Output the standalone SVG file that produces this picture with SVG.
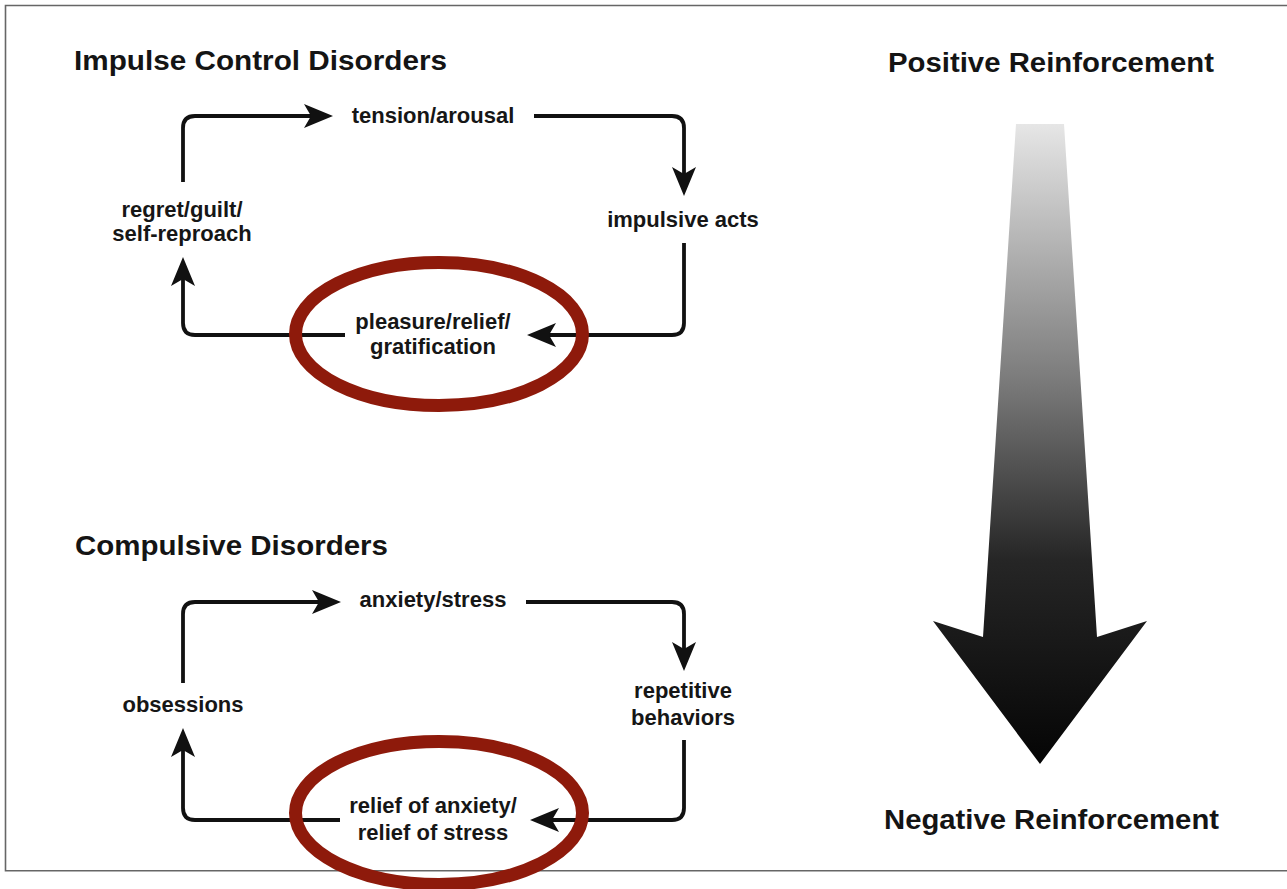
<svg xmlns="http://www.w3.org/2000/svg" width="1287" height="889" viewBox="0 0 1287 889">
  <style>
    .title { font-family: "Liberation Sans", Arial, sans-serif; font-weight: bold; font-size: 27px; fill: #141414; }
    .label { font-family: "Liberation Sans", Arial, sans-serif; font-weight: bold; font-size: 22px; fill: #161616; text-anchor: middle; }
    .conn { fill: none; stroke: #111; stroke-width: 3.8; stroke-linejoin: round; marker-end: url(#ah); }
    .ring { fill: none; stroke: #8e1a0b; stroke-width: 13; }
    .frame { fill: none; stroke: #666; stroke-width: 1.6; }
  </style>
  <defs>
    <marker id="ah" markerUnits="userSpaceOnUse" markerWidth="34" markerHeight="28" viewBox="0 -14 34 28" refX="19" refY="0" orient="auto" overflow="visible">
      <path d="M0,-12 L29,0 L0,12 L7,0 Z" fill="#111"/>
    </marker>
    <linearGradient id="shade" gradientUnits="userSpaceOnUse" x1="0" y1="124" x2="0" y2="764">
      <stop offset="0" stop-color="#e6e6e6"/>
      <stop offset="0.4" stop-color="#7b7b7b"/>
      <stop offset="0.68" stop-color="#262626"/>
      <stop offset="1" stop-color="#050505"/>
    </linearGradient>
  </defs>

  <!-- outer frame (open on the right) -->
  <path class="frame" d="M1287,5.5 H5.5 V870.7 H1287"/>

  <!-- section headings -->
  <text class="title" x="74" y="70" textLength="373" lengthAdjust="spacingAndGlyphs">Impulse Control Disorders</text>
  <text class="title" x="75" y="555" textLength="313" lengthAdjust="spacingAndGlyphs">Compulsive Disorders</text>
  <text class="title" x="888" y="72" textLength="326" lengthAdjust="spacingAndGlyphs">Positive Reinforcement</text>
  <text class="title" x="884" y="829" textLength="335" lengthAdjust="spacingAndGlyphs">Negative Reinforcement</text>

  <!-- reinforcement scale arrow -->
  <g id="scale-arrow">
    <polygon points="1016,124 1064,124 1097,637 1147,621 1040,764 933,621 983,637" fill="url(#shade)"/>
  </g>

  <!-- connectors -->
  <g id="connectors">
    <path class="conn" d="M183,182 V128 Q183,116 195,116 H323"/>
    <path class="conn" d="M534,116 H672 Q684,116 684,128 V186"/>
    <path class="conn" d="M684,243 V323 Q684,335 672,335 H537"/>
    <path class="conn" d="M345,335 H195 Q183,335 183,323 V267"/>

    <path class="conn" d="M183,683 V614 Q183,602 195,602 H331"/>
    <path class="conn" d="M526,602 H672 Q684,602 684,614 V661"/>
    <path class="conn" d="M684,740 V808 Q684,820 672,820 H540"/>
    <path class="conn" d="M340,820 H195 Q183,820 183,808 V738"/>
  </g>

  <!-- impulse control cycle -->
  <g id="tension">
    <text class="label" x="433" y="123">tension/arousal</text>
  </g>
  <g id="impulsive-acts">
    <text class="label" x="683" y="227">impulsive acts</text>
  </g>
  <g id="pleasure">
    <text class="label" x="433" y="329">pleasure/relief/</text>
    <text class="label" x="433" y="354">gratification</text>
  </g>
  <g id="regret">
    <text class="label" x="182" y="217">regret/guilt/</text>
    <text class="label" x="182" y="241">self-reproach</text>
  </g>

  <!-- compulsive cycle -->
  <g id="anxiety">
    <text class="label" x="433" y="607">anxiety/stress</text>
  </g>
  <g id="repetitive">
    <text class="label" x="683" y="698">repetitive</text>
    <text class="label" x="683" y="725">behaviors</text>
  </g>
  <g id="relief">
    <text class="label" x="433" y="813">relief of anxiety/</text>
    <text class="label" x="433" y="840">relief of stress</text>
  </g>
  <g id="obsessions">
    <text class="label" x="183" y="712">obsessions</text>
  </g>

  <!-- highlight rings -->
  <g id="highlight-top">
    <ellipse class="ring" cx="439" cy="334" rx="143.5" ry="71.5"/>
  </g>
  <g id="highlight-bottom">
    <ellipse class="ring" cx="439" cy="813" rx="143.5" ry="71.5"/>
  </g>
</svg>
